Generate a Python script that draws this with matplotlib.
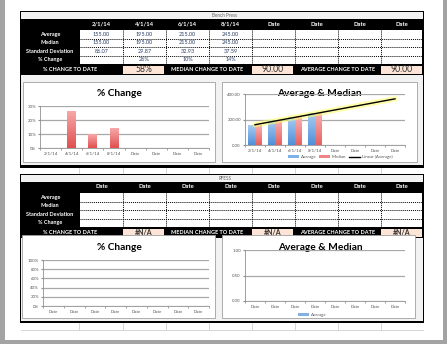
import numpy as np
import matplotlib
matplotlib.use("Agg")
import matplotlib.pyplot as plt
from matplotlib.patches import Rectangle, Patch
from matplotlib.lines import Line2D
from matplotlib.colors import LinearSegmentedColormap

plt.rcParams['font.family'] = ['Lato', 'DejaVu Sans']

# ---- data read from the sheet ----
bench_dates = ["2/1/14", "4/1/14", "6/1/14", "8/1/14", "Date", "Date", "Date", "Date"]
bench_avg = [155.00, 195.00, 215.00, 245.00]
bench_median = [155.00, 195.00, 215.00, 245.00]
bench_sd = [86.07, 29.87, 32.93, 37.59]
bench_pct = [None, 0.26, 0.10, 0.14]
bench_pct_to_date = "58%"
bench_median_to_date = "90.00"
bench_avg_to_date = "90.00"

rfess_dates = ["Date"] * 8
rfess_pct_to_date = "#N/A"
rfess_median_to_date = "#N/A"
rfess_avg_to_date = "#N/A"

row_labels = ["Average", "Median", "Standard Deviation", "% Change"]

W, H = 447, 344
fig = plt.figure(figsize=(W / 100, H / 100), dpi=100)
fig.patch.set_facecolor("#a3a3a3")

bg = fig.add_axes([0, 0, 1, 1])
bg.set_xlim(0, W)
bg.set_ylim(H, 0)
bg.axis("off")


def rect(x0, y0, x1, y1, fc, ec="none", lw=0.0, z=1):
    bg.add_patch(Rectangle((x0, y0), x1 - x0, y1 - y0, facecolor=fc,
                           edgecolor=ec, linewidth=lw, zorder=z))


def px_axes(x0, y0, x1, y1):
    return fig.add_axes([x0 / W, 1 - y1 / H, (x1 - x0) / W, (y1 - y0) / H])


# page
rect(5, 0, 443, 340, "white", z=0)

col_edges = [80, 123, 166, 209, 252, 295, 338, 381, 422]
col_mid = [(a + b) / 2 for a, b in zip(col_edges[:-1], col_edges[1:])]
value_color = "#2c3e66"


def grid_strip(y0, y1):
    for x in [79, 123, 166, 209, 252, 295, 338, 381]:
        bg.plot([x, x], [y0, y1], color="#d0d0d0", lw=0.6, zorder=1)
    bg.plot([21, 423], [y1, y1], color="#d0d0d0", lw=0.6, zorder=1)


def section(top, title, dates, rows, bottom_vals, chart_bottom):
    # outer black frame
    rect(20, top, 424, chart_bottom + 2.5, "black", z=1)
    # title row
    rect(21, top + 1, 422.5, top + 7.5, "#f2f2f2", z=2)
    bg.text(225, top + 4.3, title, fontsize=3.3, color="#666666",
            ha="center", va="center", zorder=3)
    hdr_top = top + 7.5
    hdr_bot = hdr_top + 11
    for x, d in zip(col_mid, dates):
        bg.text(x, (hdr_top + hdr_bot) / 2, d, fontsize=4.2, color="white",
                fontweight="bold", ha="center", va="center", zorder=3)
    # data cells
    cell_top = hdr_bot + 0.5
    cell_bot = cell_top + 34
    rect(80, cell_top, 422, cell_bot, "white", z=2)
    row_h = (cell_bot - cell_top) / 4
    for i, lab in enumerate(row_labels):
        yc = cell_top + row_h * (i + 0.5)
        bg.text(50, yc, lab, fontsize=4.0, color="white", fontweight="bold",
                ha="center", va="center", zorder=3)
        if i > 0:
            yl = cell_top + row_h * i
            bg.plot([80, 422], [yl, yl], color="black", lw=0.7,
                    ls=(0, (1, 1)), zorder=3)
        if rows is not None:
            for j, v in enumerate(rows[i]):
                if v is None:
                    continue
                bg.text(col_mid[j], yc, v, fontsize=4.0, color=value_color,
                        ha="center", va="center", zorder=3)
    for x in col_edges[1:-1]:
        bg.plot([x, x], [cell_top, cell_bot], color="black", lw=0.7,
                ls=(0, (1, 1)), zorder=3)
    # "to date" row
    sum_top = cell_bot
    sum_bot = sum_top + 11
    yc = (sum_top + sum_bot) / 2
    labels = [("% CHANGE TO DATE", 70), ("MEDIAN CHANGE TO DATE", 207),
              ("AVERAGE CHANGE TO DATE", 338)]
    boxes = [(123, 164), (252, 293), (381, 422)]
    for (lab, lx), (b0, b1), val in zip(labels, boxes, bottom_vals):
        bg.text(lx, yc, lab, fontsize=4.0, color="white", fontweight="bold",
                ha="center", va="center", zorder=3)
        rect(b0, sum_top + 1.5, b1, sum_bot - 1.5, "#fce4d6", z=2)
        if val.startswith("#"):
            bg.text((b0 + b1) / 2, yc + 0.3, val, fontsize=5.0, color="#333333",
                    fontweight="bold", ha="center", va="center", zorder=3)
        else:
            bg.text((b0 + b1) / 2, yc + 0.3, val, fontsize=6.2, color="#333333",
                    ha="center", va="center", zorder=3)
    # chart area
    rect(21, sum_bot, 422.5, chart_bottom, "#f2f2f2", z=2)
    return sum_bot


def fmt(v, pat):
    return None if v is None else pat.format(v)


bench_rows = [
    [fmt(v, "{:.2f}") for v in bench_avg],
    [fmt(v, "{:.2f}") for v in bench_median],
    [fmt(v, "{:.2f}") for v in bench_sd],
    [None if v is None else "{:.0f}%".format(v * 100) for v in bench_pct],
]

s1 = section(11, "Bench Press", bench_dates, bench_rows,
             [bench_pct_to_date, bench_median_to_date, bench_avg_to_date], 165)
grid_strip(168, 174)
s2 = section(174, "RFESS", rfess_dates, None,
             [rfess_pct_to_date, rfess_median_to_date, rfess_avg_to_date], 320.5)
grid_strip(323, 330)

# chart boxes
for x0, y0, x1, y1 in [(23, 82, 215, 162), (222, 82, 417, 162),
                       (22, 235, 215, 318), (222, 235, 415, 318)]:
    rect(x0, y0, x1, y1, "white", ec="#a0a0a0", lw=0.6, z=3)

bg.text(119, 93, "% Change", fontsize=7.3, fontweight="bold", ha="center",
        va="center", zorder=4)
bg.text(319, 94, "Average & Median", fontsize=7.3, fontweight="bold",
        ha="center", va="center", zorder=6)
bg.text(119, 248, "% Change", fontsize=7.3, fontweight="bold", ha="center",
        va="center", zorder=4)
bg.text(320, 248, "Average & Median", fontsize=7.3, fontweight="bold",
        ha="center", va="center", zorder=6)

red_cmap = LinearSegmentedColormap.from_list("r", ["#e05050", "#f7a8a8"])
blue_cmap = LinearSegmentedColormap.from_list("b", ["#4f8fd8", "#a8ccf2"])
red2_cmap = LinearSegmentedColormap.from_list("r2", ["#e86060", "#f9b0b0"])
grad = np.linspace(0, 1, 64).reshape(-1, 1)


def grad_bar(ax, x, h, w, cmap):
    ax.imshow(grad, extent=[x - w / 2, x + w / 2, 0, h], origin="lower",
              cmap=cmap, aspect="auto", interpolation="bilinear", zorder=3)


def style_chart(ax, labels, ylim, yticks, yfmt):
    ax.set_facecolor("none")
    ax.set_xlim(-0.5, len(labels) - 0.5)
    ax.set_ylim(*ylim)
    ax.set_yticks(yticks)
    ax.set_yticklabels([yfmt.format(t) for t in yticks])
    ax.set_xticks(np.arange(len(labels)))
    ax.set_xticklabels(labels)
    ax.set_xticks(np.arange(len(labels) + 1) - 0.5, minor=True)
    ax.tick_params(axis="x", which="major", length=0, labelsize=3.2,
                   colors="#555555", pad=3)
    ax.tick_params(axis="x", which="minor", length=1.5, color="#909090")
    ax.tick_params(axis="y", length=1.5, labelsize=3.2, colors="#909090",
                   labelcolor="#555555", pad=1.5)
    ax.grid(axis="y", color="#a8a8a8", lw=0.9)
    ax.set_axisbelow(True)
    for s in ["top", "right"]:
        ax.spines[s].set_visible(False)
    for s in ["left", "bottom"]:
        ax.spines[s].set_color("#909090")
        ax.spines[s].set_linewidth(0.6)


# chart 1: % change (bench)
ax1 = px_axes(40, 106, 209, 148)
ax1.set_zorder(5)
for i, v in enumerate(bench_pct):
    if v is not None:
        grad_bar(ax1, i, v, 0.42, red_cmap)
style_chart(ax1, bench_dates, (0, 0.3), [0, 0.1, 0.2, 0.3], "{:.0%}")

# chart 2: average & median (bench)
ax2 = px_axes(245, 94, 405, 145)
ax2.set_zorder(5)
bw = 0.33
for i, (a, m) in enumerate(zip(bench_avg, bench_median)):
    grad_bar(ax2, i - bw / 2, a, bw, blue_cmap)
    grad_bar(ax2, i + bw / 2, m, bw, red2_cmap)
xs = np.arange(1, len(bench_avg) + 1)
slope, icpt = np.polyfit(xs, bench_avg, 1)
xt = np.arange(1, len(bench_dates) + 1)
yt = slope * xt + icpt
ax2.plot(xt - 1, yt, color="#ffff66", lw=4, alpha=0.55, zorder=4,
         solid_capstyle="round")
ax2.plot(xt - 1, yt, color="black", lw=1.0, zorder=5)
style_chart(ax2, bench_dates, (0, 400), [0, 200, 400], "{:.2f}")
handles = [Patch(facecolor="#7fb0e8"), Patch(facecolor="#f08585"),
           Line2D([], [], color="black", lw=1.0)]
ax2.legend(handles, ["Average", "Median", "Linear (Average)"], loc="center",
           bbox_to_anchor=(340 / W, 1 - 157 / H), bbox_transform=fig.transFigure,
           ncol=3, frameon=False, fontsize=3.2, handlelength=2.6,
           handleheight=0.6, columnspacing=0.6, handletextpad=0.3,
           labelcolor="#555555")

# chart 3: % change (RFESS) - empty
ax3 = px_axes(43, 260, 209, 306)
ax3.set_zorder(5)
style_chart(ax3, rfess_dates, (0, 1), [0, 0.2, 0.4, 0.6, 0.8, 1.0], "{:.0%}")

# chart 4: average & median (RFESS) - empty
ax4 = px_axes(245, 250, 405, 301)
ax4.set_zorder(5)
style_chart(ax4, rfess_dates, (0, 1), [0, 0.5, 1.0], "{:.2f}")
ax4.legend([Patch(facecolor="#7fb0e8")], ["Average"], loc="center",
           bbox_to_anchor=(312 / W, 1 - 315 / H), bbox_transform=fig.transFigure,
           frameon=False, fontsize=3.2, handlelength=2.6, handleheight=0.6,
           handletextpad=0.3, labelcolor="#555555")

fig.savefig("out.png", dpi=100, facecolor=fig.get_facecolor())
